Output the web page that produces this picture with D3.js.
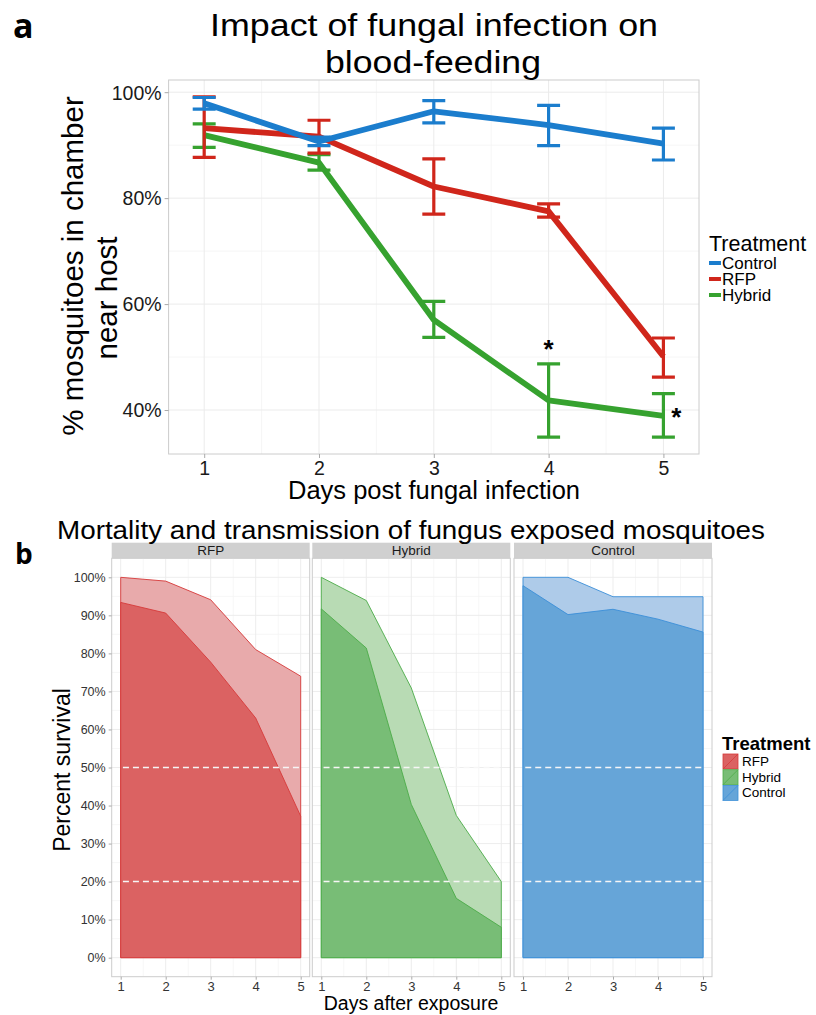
<!DOCTYPE html>
<html>
<head>
<meta charset="utf-8">
<script src="https://cdn.jsdelivr.net/npm/d3@7"></script>
<style>
  body { margin: 0; background: #fff; }
  svg { display: block; font-family: "Liberation Sans", Arial, sans-serif; }
</style>
</head>
<body>
<svg id="fig" width="816" height="1015"></svg>
<script>
// ---- data: panel a (blood-feeding), percent near host ----
var days = [1, 2, 3, 4, 5];
var treatmentsA = ["Control", "RFP", "Hybrid"];
var controlMean = [97.9, 90.7, 96.4, 93.8, 90.3];
var controlLow  = [96.8, 89.9, 94.2, 89.9, 87.2];
var controlHigh = [99.0, 91.5, 98.4, 97.5, 93.2];
var rfpMean = [93.2, 91.6, 82.2, 77.5, 50.1];
var rfpLow  = [87.7, 88.5, 77.0, 76.4, 46.2];
var rfpHigh = [99.1, 94.7, 87.4, 78.9, 53.6];
var hybridMean = [91.9, 86.7, 57.0, 41.8, 38.9];
var hybridLow  = [89.6, 85.3, 53.7, 34.9, 34.9];
var hybridHigh = [94.0, 88.2, 60.5, 48.7, 43.1];
var starDays = [4, 5];
var yTicksA = [40, 60, 80, 100];

// ---- data: panel b (survival), percent ----
var facets = ["RFP", "Hybrid", "Control"];
var rfpTotal    = [100, 99.0, 94.1, 81.0, 74.0];
var rfpDark     = [93.4, 90.6, 77.7, 63.0, 37.2];
var hybridTotal = [100, 93.9, 70.9, 37.4, 20.0];
var hybridDark  = [91.7, 81.4, 40.3, 15.6, 8.0];
var controlTotal = [100, 100, 94.9, 94.9, 94.9];
var controlDark  = [97.8, 90.2, 91.6, 89.0, 85.6];
var refLines = [50, 20];
var yTicksB = [0, 10, 20, 30, 40, 50, 60, 70, 80, 90, 100];

var lineColor = {Control: "#1b7dcd", RFP: "#d0261b", Hybrid: "#36a22f"};
var areaLight = {RFP: "#e8aaab", Hybrid: "#b8dbb4", Control: "#aecbe9"};
var areaDark  = {RFP: "#db6262", Hybrid: "#78bd76", Control: "#66a5d8"};
var areaEdge  = {RFP: "#d63a3a", Hybrid: "#4cac48", Control: "#3b8fd8"};

var svg = d3.select("#fig");

// =================== panel a ===================
var marginA = {left: 168.6, right: 699, top: 80, bottom: 454};
var xA = d3.scaleLinear().domain([0.69, 5.31]).range([marginA.left, marginA.right]);
var yA = d3.scaleLinear().domain([31.7, 102.3]).range([marginA.bottom, marginA.top]);

var gA = svg.append("g");

// grid
gA.selectAll(".minorx").data([1.5, 2.5, 3.5, 4.5]).enter().append("line")
  .attr("x1", xA).attr("x2", xA).attr("y1", marginA.top).attr("y2", marginA.bottom)
  .attr("stroke", "#f4f4f4").attr("stroke-width", 0.8);
gA.selectAll(".minory").data([50, 70, 90]).enter().append("line")
  .attr("y1", yA).attr("y2", yA).attr("x1", marginA.left).attr("x2", marginA.right)
  .attr("stroke", "#f4f4f4").attr("stroke-width", 0.8);
gA.selectAll(".majorx").data(days).enter().append("line")
  .attr("x1", xA).attr("x2", xA).attr("y1", marginA.top).attr("y2", marginA.bottom)
  .attr("stroke", "#ebebeb").attr("stroke-width", 1);
gA.selectAll(".majory").data(yTicksA).enter().append("line")
  .attr("y1", yA).attr("y2", yA).attr("x1", marginA.left).attr("x2", marginA.right)
  .attr("stroke", "#ebebeb").attr("stroke-width", 1);

var seriesA = {
  Control: {mean: controlMean, low: controlLow, high: controlHigh},
  RFP: {mean: rfpMean, low: rfpLow, high: rfpHigh},
  Hybrid: {mean: hybridMean, low: hybridLow, high: hybridHigh}
};

var lineA = d3.line()
  .x(function(d) { return xA(d.day); })
  .y(function(d) { return yA(d.v); });

// hybrid first, control on top
treatmentsA.slice().reverse().forEach(function(t) {
  var s = seriesA[t];
  var pts = days.map(function(d, i) { return {day: d, v: s.mean[i], lo: s.low[i], hi: s.high[i]}; });
  var g = gA.append("g");
  g.selectAll(".eb").data(pts).enter().append("path")
    .attr("d", function(d) {
      var x = xA(d.day), w = (xA(1.1) - xA(0.9)) / 2;
      return "M" + (x - w) + "," + yA(d.hi) + "H" + (x + w) +
             "M" + x + "," + yA(d.hi) + "V" + yA(d.lo) +
             "M" + (x - w) + "," + yA(d.lo) + "H" + (x + w);
    })
    .attr("fill", "none").attr("stroke", lineColor[t]).attr("stroke-width", 3.2);
  g.append("path").datum(pts)
    .attr("d", lineA)
    .attr("fill", "none").attr("stroke", lineColor[t]).attr("stroke-width", 5.8)
    .attr("stroke-linejoin", "round");
});

// panel border
gA.append("rect").attr("x", marginA.left).attr("y", marginA.top)
  .attr("width", marginA.right - marginA.left).attr("height", marginA.bottom - marginA.top)
  .attr("fill", "none").attr("stroke", "#cccccc").attr("stroke-width", 1);

// axes
var axAx = gA.append("g").attr("transform", "translate(0," + marginA.bottom + ")")
  .call(d3.axisBottom(xA).tickValues(days).tickSize(4).tickPadding(3).tickFormat(d3.format("d")));
var axAy = gA.append("g").attr("transform", "translate(" + marginA.left + ",0)")
  .call(d3.axisLeft(yA).tickValues(yTicksA).tickSize(4).tickPadding(3).tickFormat(function(d) { return d + "%"; }));
[axAx, axAy].forEach(function(a) {
  a.select(".domain").remove();
  a.selectAll(".tick line").attr("stroke", "#aaaaaa");
  a.selectAll(".tick text").attr("fill", "#1a1a1a").style("font-size", "19.5px")
    .style("font-family", "Liberation Sans, Arial, sans-serif");
});
axAy.selectAll(".tick text").attr("dy", "0.35em");

// significance stars
gA.selectAll(".star").data(starDays).enter().append("text")
  .attr("x", function(d) { return d === 4 ? xA(4) : xA(5) + 13; })
  .attr("y", function(d) { return d === 4 ? yA(hybridHigh[3]) - 6 : yA(hybridMean[4]) + 10; })
  .attr("text-anchor", "middle")
  .style("font-size", "26px").style("font-weight", "bold")
  .text("*");

// titles
svg.append("text").attr("x", 434).attr("y", 36).attr("text-anchor", "middle")
  .attr("textLength", 448).attr("lengthAdjust", "spacingAndGlyphs")
  .style("font-size", "31px").text("Impact of fungal infection on");
svg.append("text").attr("x", 433).attr("y", 73).attr("text-anchor", "middle")
  .attr("textLength", 216).attr("lengthAdjust", "spacingAndGlyphs")
  .style("font-size", "31px").text("blood-feeding");
svg.append("text").attr("x", 434).attr("y", 499).attr("text-anchor", "middle")
  .style("font-size", "25.5px").text("Days post fungal infection");
svg.append("text").attr("transform", "translate(83,266) rotate(-90)").attr("text-anchor", "middle")
  .style("font-size", "29.5px").text("% mosquitoes in chamber");
svg.append("text").attr("transform", "translate(117,298) rotate(-90)").attr("text-anchor", "middle")
  .style("font-size", "29.5px").text("near host");
svg.append("text").attr("x", 13).attr("y", 38)
  .style("font-family", "Open Sans, sans-serif").style("font-weight", "bold").style("font-size", "34px").text("a");

// legend a
var legA = svg.append("g").attr("transform", "translate(709,0)");
legA.append("text").attr("x", 0).attr("y", 251).style("font-size", "21.5px").text("Treatment");
legA.selectAll(".k").data(treatmentsA).enter().append("rect")
  .attr("x", 0).attr("y", function(d, i) { return 261 + i * 16; })
  .attr("width", 12).attr("height", 4).attr("fill", function(d) { return lineColor[d]; });
legA.selectAll(".l").data(treatmentsA).enter().append("text")
  .attr("x", 13).attr("y", function(d, i) { return 269 + i * 16; })
  .style("font-size", "17px").text(function(d) { return d; });

// =================== panel b ===================
var facetLeft = [111.7, 312.3, 514];
var facetW = 198;
var topB = 558.3, bottomB = 976.7, stripTop = 542.7;
var yB = d3.scaleLinear().domain([-5, 105]).range([bottomB, topB]);

var seriesB = {
  RFP: {total: rfpTotal, dark: rfpDark},
  Hybrid: {total: hybridTotal, dark: hybridDark},
  Control: {total: controlTotal, dark: controlDark}
};

facets.forEach(function(f, fi) {
  var x0 = facetLeft[fi];
  var xB = d3.scaleLinear().domain([0.8, 5.2]).range([x0, x0 + facetW]);
  var g = svg.append("g");

  // strip
  g.append("rect").attr("x", x0).attr("y", stripTop).attr("width", facetW).attr("height", topB - stripTop)
    .attr("fill", "#d0d0d0");
  g.append("text").attr("x", x0 + facetW / 2).attr("y", 555).attr("text-anchor", "middle")
    .style("font-size", "13.5px").attr("fill", "#1a1a1a").text(f);

  // grid
  g.selectAll(".mx").data([1.5, 2.5, 3.5, 4.5]).enter().append("line")
    .attr("x1", xB).attr("x2", xB).attr("y1", topB).attr("y2", bottomB)
    .attr("stroke", "#f4f4f4").attr("stroke-width", 0.7);
  g.selectAll(".my").data(d3.range(5, 100, 10)).enter().append("line")
    .attr("y1", yB).attr("y2", yB).attr("x1", x0).attr("x2", x0 + facetW)
    .attr("stroke", "#f4f4f4").attr("stroke-width", 0.7);
  g.selectAll(".gx").data(days).enter().append("line")
    .attr("x1", xB).attr("x2", xB).attr("y1", topB).attr("y2", bottomB)
    .attr("stroke", "#ebebeb").attr("stroke-width", 0.9);
  g.selectAll(".gy").data(yTicksB).enter().append("line")
    .attr("y1", yB).attr("y2", yB).attr("x1", x0).attr("x2", x0 + facetW)
    .attr("stroke", "#ebebeb").attr("stroke-width", 0.9);

  var s = seriesB[f];
  var area = d3.area()
    .x(function(d) { return xB(d.day); })
    .y0(yB(0))
    .y1(function(d) { return yB(d.v); });
  var tot = days.map(function(d, i) { return {day: d, v: s.total[i]}; });
  var dk = days.map(function(d, i) { return {day: d, v: s.dark[i]}; });
  g.append("path").datum(tot).attr("d", area)
    .attr("fill", areaLight[f]).attr("stroke", areaEdge[f]).attr("stroke-width", 0.9);
  g.append("path").datum(dk).attr("d", area)
    .attr("fill", areaDark[f]).attr("stroke", areaEdge[f]).attr("stroke-width", 0.9);

  // reference lines
  g.selectAll(".ref").data(refLines).enter().append("line")
    .attr("x1", xB(1.05)).attr("x2", xB(5)).attr("y1", yB).attr("y2", yB)
    .attr("stroke", "#f6f6f6").attr("stroke-width", 1.5).attr("stroke-dasharray", "6,4");

  // border
  g.append("rect").attr("x", x0).attr("y", topB).attr("width", facetW).attr("height", bottomB - topB)
    .attr("fill", "none").attr("stroke", "#cccccc").attr("stroke-width", 1);

  var ax = g.append("g").attr("transform", "translate(0," + bottomB + ")")
    .call(d3.axisBottom(xB).tickValues(days).tickSize(3).tickPadding(2).tickFormat(d3.format("d")));
  ax.select(".domain").remove();
  ax.selectAll(".tick line").attr("stroke", "#aaaaaa");
  ax.selectAll(".tick text").attr("fill", "#333333").style("font-size", "13px")
    .style("font-family", "Liberation Sans, Arial, sans-serif");

  if (fi === 0) {
    var ay = g.append("g").attr("transform", "translate(" + x0 + ",0)")
      .call(d3.axisLeft(yB).tickValues(yTicksB).tickSize(3).tickPadding(3).tickFormat(function(d) { return d + "%"; }));
    ay.select(".domain").remove();
    ay.selectAll(".tick line").attr("stroke", "#aaaaaa");
    ay.selectAll(".tick text").attr("fill", "#333333").style("font-size", "12.5px")
      .style("font-family", "Liberation Sans, Arial, sans-serif");
  }
});

svg.append("text").attr("x", 411).attr("y", 539).attr("text-anchor", "middle")
  .attr("textLength", 708).attr("lengthAdjust", "spacingAndGlyphs")
  .style("font-size", "26px").text("Mortality and transmission of fungus exposed mosquitoes");
svg.append("text").attr("x", 411).attr("y", 1010).attr("text-anchor", "middle")
  .style("font-size", "19.5px").text("Days after exposure");
svg.append("text").attr("transform", "translate(70,770) rotate(-90)").attr("text-anchor", "middle")
  .style("font-size", "23px").text("Percent survival");
svg.append("text").attr("x", 15).attr("y", 564)
  .style("font-family", "Open Sans, sans-serif").style("font-weight", "bold").style("font-size", "28px").text("b");

// legend b
var legB = svg.append("g").attr("transform", "translate(722,0)");
legB.append("text").attr("x", 0).attr("y", 750).style("font-size", "18.5px").style("font-weight", "bold").text("Treatment");
var keyB = legB.selectAll(".kb").data(facets).enter().append("g")
  .attr("transform", function(d, i) { return "translate(1," + (754 + i * 15.7) + ")"; });
keyB.append("rect").attr("width", 15).attr("height", 15)
  .attr("fill", function(d) { return areaDark[d]; })
  .attr("stroke", function(d) { return areaEdge[d]; }).attr("stroke-width", 0.8);
keyB.append("line").attr("x1", 0).attr("y1", 15).attr("x2", 15).attr("y2", 0)
  .attr("stroke", function(d) { return areaEdge[d]; }).attr("stroke-width", 0.8);
keyB.append("text").attr("x", 19).attr("y", 12).style("font-size", "13.5px").text(function(d) { return d; });
</script>
</body>
</html>
